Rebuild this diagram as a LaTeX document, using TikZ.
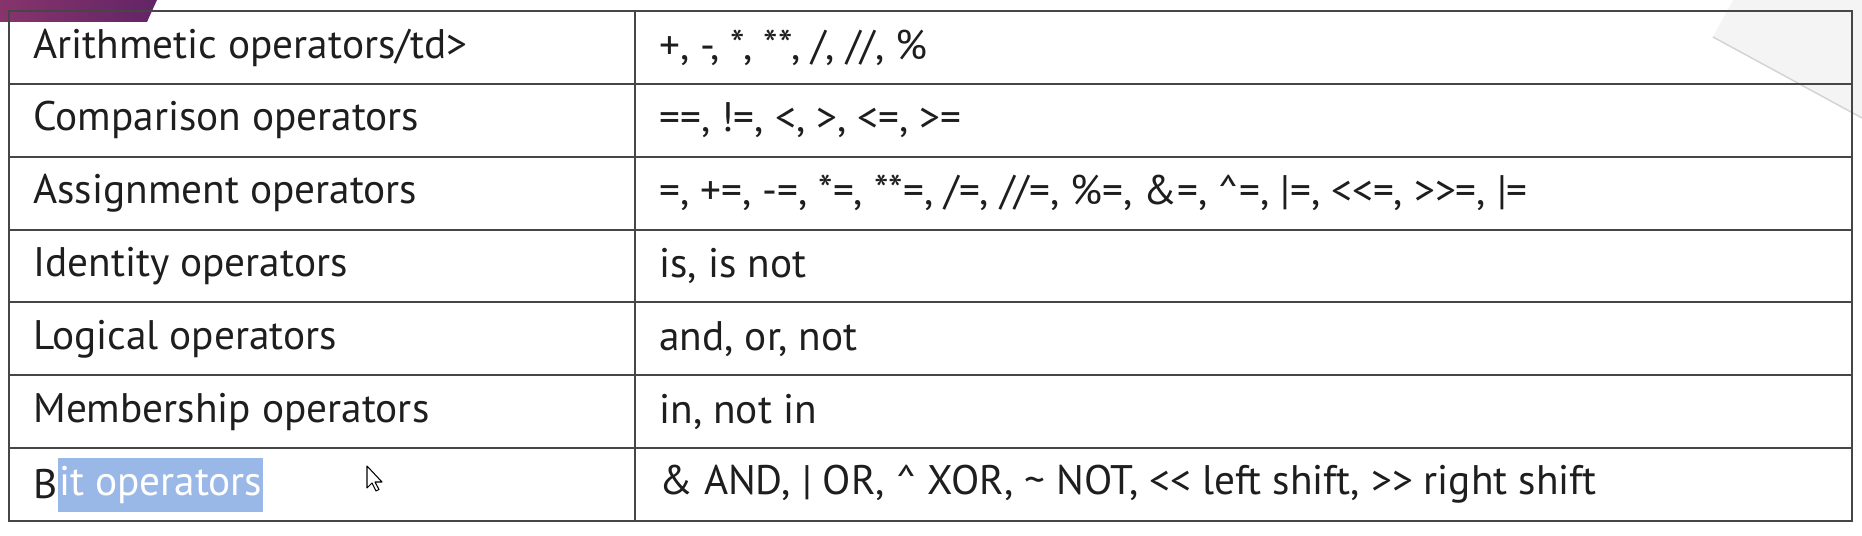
\documentclass[tikz,border=0pt]{standalone}
\usepackage{fontspec}
\setmainfont{PT Sans}
\usetikzlibrary{positioning}
\definecolor{tabline}{RGB}{70,70,70}
\definecolor{celltext}{RGB}{30,30,30}
\definecolor{selblue}{RGB}{153,184,232}
\definecolor{tabpurple}{RGB}{135,52,108}
\definecolor{tabpurpledark}{RGB}{98,36,102}
\definecolor{paneshade}{RGB}{244,244,244}
\definecolor{paneedge}{RGB}{210,210,210}

\begin{document}
\begin{tikzpicture}[
	cell/.style={anchor=west, inner sep=0pt, text=celltext, font=\fontsize{23.5}{28}\selectfont},
	grid/.style={draw=tabline, line width=1.1pt}]
		%%%%% START %%%%%
		\useasboundingbox[fill=white] (0, 0) rectangle (37.24, 10.72);
		
		% slide corners
		\shade[left color=tabpurple, right color=tabpurpledark] (0, 10.72) -- (3.14, 10.72) -- (2.94, 10.28) -- (0, 10.28) -- cycle;
		\fill[paneshade] (34.26, 9.98) -- (34.66, 10.72) -- (37.24, 10.72) -- (37.24, 8.36) -- cycle;
		\draw[paneedge, line width=0.8pt] (34.26, 9.98) -- (37.24, 8.36);
		
		% table
		\draw[grid] (0.18, 0.30) rectangle (37.04, 10.5);
		\draw[grid] (12.7, 0.30) -- (12.7, 10.5);
		\draw[grid] (0.18, 9.043) -- (37.04, 9.043);
		\draw[grid] (0.18, 7.586) -- (37.04, 7.586);
		\draw[grid] (0.18, 6.129) -- (37.04, 6.129);
		\draw[grid] (0.18, 4.671) -- (37.04, 4.671);
		\draw[grid] (0.18, 3.214) -- (37.04, 3.214);
		\draw[grid] (0.18, 1.757) -- (37.04, 1.757);
		
		\node[cell] (arith) at (0.66, 9.771) {Arithmetic operators/td>};
		\node[cell] (arithops) at (13.18, 9.771) {+, -, *, **, /, //, \%};
		
		\node[cell] (comp) at (0.66, 8.314) {Comparison operators};
		\node[cell] (compops) at (13.18, 8.314) {==, !=, <, >, <=, >=};
		
		\node[cell] (assign) at (0.66, 6.857) {Assignment operators};
		\node[cell] (assignops) at (13.18, 6.857) {=, +=, -=, *=, **=, /=, //=, \%=, \&=, \textasciicircum=, |=, <\kern0pt<=, >\kern0pt>=, |=};
		
		\node[cell] (ident) at (0.66, 5.4) {Identity operators};
		\node[cell] (identops) at (13.18, 5.4) {is, is not};
		
		\node[cell] (logic) at (0.66, 3.943) {Logical operators};
		\node[cell] (logicops) at (13.18, 3.943) {and, or, not};
		
		\node[cell] (member) at (0.66, 2.486) {Membership operators};
		\node[cell] (memberops) at (13.18, 2.486) {in, not in};
		
		\node[cell] (bitB) at (0.66, 1.029) {B};
		\node[cell, right=0pt of bitB, fill=selblue, text=white, minimum height=1.08cm, inner xsep=0.5pt] (bitsel) {it operators};
		\node[cell] (bitops) at (13.18, 1.029) {\& AND, | OR, \textasciicircum{} XOR, \textasciitilde{} NOT, <\kern0pt< left shift, >\kern0pt> right shift};
		
		% mouse pointer
		\draw[fill=white, line width=0.6pt, line join=round] (7.34, 1.40) -- ++(0, -0.44) -- ++(0.1, 0.1) -- ++(0.08, -0.16) -- ++(0.06, 0.03) -- ++(-0.08, 0.15) -- ++(0.14, 0) -- cycle;
		%%%%% END %%%%%
	\end{tikzpicture}
\end{document}
